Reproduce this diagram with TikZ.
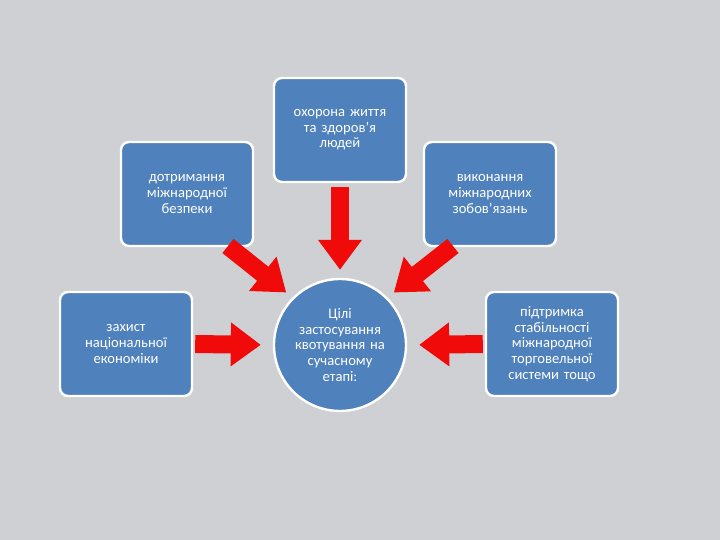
\documentclass[tikz,border=0pt]{standalone}
\usepackage{fontspec}
\setmainfont{Carlito}
\usetikzlibrary{arrows.meta}
\definecolor{boxblue}{RGB}{79,129,189}
\definecolor{bg}{RGB}{206,208,212}
\definecolor{arr}{RGB}{240,10,10}
\begin{document}
\begin{tikzpicture}[x=0.5pt,y=-0.5pt,
  bx/.style={draw=white,line width=1.2pt,fill=boxblue,rounded corners=4pt,minimum width=66pt,minimum height=52pt,text width=56pt,align=center,text=white,font=\fontsize{7.3}{7.8}\selectfont,inner sep=1pt},
  cir/.style={draw=white,line width=1.2pt,fill=boxblue,circle,minimum size=66pt,text width=50pt,align=center,text=white,font=\fontsize{7.3}{7.8}\selectfont,inner sep=0pt},
  bigarr/.style={draw=arr,line width=9pt,-{Triangle[length=15pt,width=21pt,fill=arr]}}]
\fill[bg] (0,0) rectangle (720,540);
\node[cir] (c) at (340,345) {Цілі\\ застосування квотування на сучасному етапі:};
\node[bx] (t) at (340,130) {охорона життя\\ та здоров\char"02BC я\\ людей};
\node[bx] (lt) at (187,194) {дотримання міжнародної безпеки};
\node[bx] (rt) at (490,194) {виконання міжнародних зобов\char"02BC язань};
\node[bx] (l) at (126,344) {захист національної економіки};
\node[bx] (r) at (552,344) {підтримка стабільності міжнародної торговельної системи тощо};
\draw[bigarr,shorten <=2pt,shorten >=4pt] (t.south) -- (c.north);
\draw[bigarr,shorten <=1pt,shorten >=6pt] (l.east) -- (c.west);
\draw[bigarr,shorten <=1pt,shorten >=6pt] (r.west) -- (c.east);
\draw[bigarr,shorten >=4pt] (228,246) -- (c.135);
\draw[bigarr,shorten >=4pt] (453,246) -- (c.45);
\end{tikzpicture}
\end{document}
